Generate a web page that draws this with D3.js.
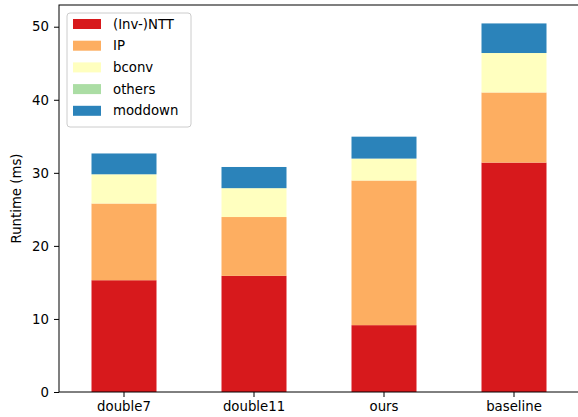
<!DOCTYPE html>
<html>
<head>
<meta charset="utf-8">
<script src="https://cdn.jsdelivr.net/npm/d3@7"></script>
<style>
  body { margin: 0; background: #fff; }
  text { font-family: "DejaVu Sans", sans-serif; }
</style>
</head>
<body>
<svg width="578" height="417"></svg>
<script>
var categories = ["double7", "double11", "ours", "baseline"];
var keys = ["(Inv-)NTT", "IP", "bconv", "others", "moddown"];
var ntt     = [15.3, 15.9, 9.15, 31.4];
var ip      = [10.5, 8.05, 19.8, 9.6];
var bconv   = [4.0, 3.95, 3.0, 5.4];
var others  = [0, 0, 0, 0];
var moddown = [2.85, 2.9, 3.0, 4.05];
var yTicks = [0, 10, 20, 30, 40, 50];
var colors = ["#d7191c", "#fdae61", "#ffffbf", "#abdda4", "#2b83ba"];

var data = categories.map(function(c, i) {
  return {cat: c, "(Inv-)NTT": ntt[i], IP: ip[i], bconv: bconv[i], others: others[i], moddown: moddown[i]};
});

var series = d3.stack().keys(keys)(data);

var svg = d3.select("svg"),
    margin = {top: 5, right: -1, bottom: 25, left: 59},
    width = +svg.attr("width"),
    height = +svg.attr("height");

var maxTotal = d3.max(series[series.length - 1], function(d) { return d[1]; });

var x = d3.scaleBand()
    .domain(categories)
    .range([margin.left, width - margin.right])
    .paddingInner(0.5)
    .paddingOuter(0.25);

var y = d3.scaleLinear()
    .domain([0, maxTotal * 1.05])
    .range([height - margin.bottom, margin.top]);

var z = d3.scaleOrdinal().domain(keys).range(colors);

svg.append("g")
  .selectAll("g")
  .data(series)
  .enter().append("g")
    .attr("fill", function(d) { return z(d.key); })
  .selectAll("rect")
  .data(function(d) { return d; })
  .enter().append("rect")
    .attr("x", function(d) { return x(d.data.cat); })
    .attr("width", x.bandwidth())
    .attr("y", function(d) { return y(d[1]); })
    .attr("height", function(d) { return y(d[0]) - y(d[1]); });

// frame
svg.append("rect")
    .attr("x", margin.left)
    .attr("y", margin.top)
    .attr("width", width - margin.right - margin.left)
    .attr("height", height - margin.bottom - margin.top)
    .attr("fill", "none")
    .attr("stroke", "#000")
    .attr("stroke-width", 1);

var xAxis = svg.append("g")
    .attr("transform", "translate(0," + (height - margin.bottom) + ")")
    .call(d3.axisBottom(x).tickSize(5).tickPadding(5));
var yAxis = svg.append("g")
    .attr("transform", "translate(" + margin.left + ",0)")
    .call(d3.axisLeft(y).tickValues(yTicks).tickSize(5).tickPadding(5));

[xAxis, yAxis].forEach(function(a) {
  a.select(".domain").remove();
  a.selectAll("text").attr("font-size", 13.3).attr("fill", "#000")
    .attr("font-family", "DejaVu Sans, sans-serif");
  a.selectAll("line").attr("stroke", "#000");
});

svg.append("text")
    .attr("transform", "translate(21," + ((margin.top + height - margin.bottom) / 2) + ") rotate(-90)")
    .attr("text-anchor", "middle")
    .attr("font-size", 13.3)
    .text("Runtime (ms)");

// legend
var legend = svg.append("g").attr("transform", "translate(67,13)");
legend.append("rect")
    .attr("width", 124).attr("height", 114)
    .attr("rx", 3)
    .attr("fill", "#fff").attr("fill-opacity", 0.8)
    .attr("stroke", "#ccc");
var items = legend.selectAll("g.item")
  .data(keys)
  .enter().append("g")
    .attr("transform", function(d, i) { return "translate(6," + (6 + i * 21.7) + ")"; });
items.append("rect")
    .attr("width", 28).attr("height", 10)
    .attr("fill", function(d) { return z(d); });
items.append("text")
    .attr("x", 40).attr("y", 5)
    .attr("dy", "0.35em")
    .attr("font-size", 13.3)
    .text(function(d) { return d; });
</script>
</body>
</html>
